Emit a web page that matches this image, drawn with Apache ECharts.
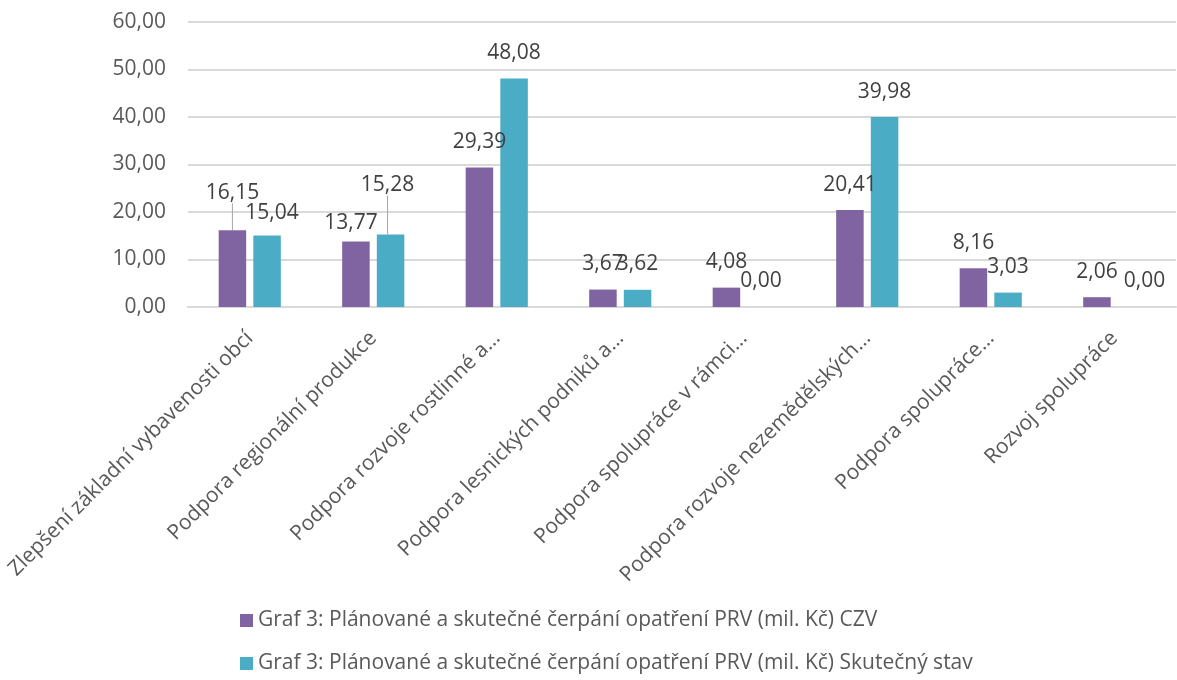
<!DOCTYPE html>
<html>
<head>
<meta charset="utf-8">
<script src="https://cdn.jsdelivr.net/npm/echarts@6/dist/echarts.min.js"></script>
<style>
  html, body { margin: 0; padding: 0; background: #fff; }
  #chart { width: 1177px; height: 680px; }
</style>
</head>
<body>
<div id="chart"></div>
<script>
const categories = [
  'Zlepšení základní vybavenosti obcí',
  'Podpora regionální produkce',
  'Podpora rozvoje rostlinné a…',
  'Podpora lesnických podniků a…',
  'Podpora spolupráce v rámci…',
  'Podpora rozvoje nezemědělských…',
  'Podpora spolupráce…',
  'Rozvoj spolupráce'
];
const seriesNames = [
  'Graf 3: Plánované a skutečné čerpání opatření PRV (mil. Kč) CZV',
  'Graf 3: Plánované a skutečné čerpání opatření PRV (mil. Kč) Skutečný stav'
];
const czv = [16.15, 13.77, 29.39, 3.67, 4.08, 20.41, 8.16, 2.06];
const actual = [15.04, 15.28, 48.08, 3.62, 0.00, 39.98, 3.03, 0.00];
const yMin = 0, yMax = 60, yStep = 10;

// labels that Excel had dragged away from their default spot
const labelNudge = [
  { 0: [0, -12], 1: [-5, 7] },
  { 0: [5, 3], 1: [-3, -24], 7: [13, 0] }
];
const withLeader = [[0], [1]];

const FONT = '"Open Sans", "DejaVu Sans", sans-serif';
const FS = 21;
const fmt = v => v.toFixed(2).replace('.', ',');

const toItems = (values, s) => values.map((v, i) => {
  const item = { value: v };
  if (withLeader[s].includes(i)) {
    item.labelLine = { show: true, lineStyle: { color: '#a6a6a6', width: 1 } };
  }
  return item;
});

const makeSeries = (values, s, color) => ({
  name: seriesNames[s],
  type: 'bar',
  barWidth: 27.5,
  barGap: '26%',
  itemStyle: { color: color },
  data: toItems(values, s),
  label: {
    show: true,
    position: 'top',
    distance: 15,
    color: '#404040',
    fontSize: FS,
    fontFamily: FONT,
    formatter: p => fmt(p.value)
  },
  labelLayout: params => {
    const n = labelNudge[params.seriesIndex][params.dataIndex];
    return n ? { dx: n[0], dy: n[1] } : {};
  }
});

const chart = echarts.init(document.getElementById('chart'));
chart.setOption({
  animation: false,
  backgroundColor: '#fff',
  textStyle: { fontFamily: FONT },
  grid: { left: 188, right: 1, top: 22, bottom: 373, containLabel: false },
  legend: {
    orient: 'vertical',
    left: 235,
    top: 605,
    itemWidth: 13,
    itemHeight: 13,
    itemGap: 22,
    icon: 'rect',
    textStyle: { color: '#595959', fontSize: FS, fontFamily: FONT },
    data: seriesNames
  },
  xAxis: {
    type: 'category',
    data: categories,
    axisLine: { lineStyle: { color: '#d9d9d9', width: 2 } },
    axisTick: { show: false },
    axisLabel: {
      interval: 0,
      rotate: 45,
      margin: 28,
      color: '#595959',
      fontSize: FS,
      fontFamily: FONT
    }
  },
  yAxis: {
    type: 'value',
    min: yMin,
    max: yMax,
    interval: yStep,
    axisLine: { show: false },
    axisTick: { show: false },
    splitLine: { lineStyle: { color: '#d9d9d9', width: 2 } },
    axisLabel: {
      margin: 22,
      color: '#595959',
      fontSize: FS,
      fontFamily: FONT,
      formatter: v => fmt(v)
    }
  },
  series: [
    makeSeries(czv, 0, '#8064a2'),
    makeSeries(actual, 1, '#4bacc6')
  ]
});
</script>
</body>
</html>
